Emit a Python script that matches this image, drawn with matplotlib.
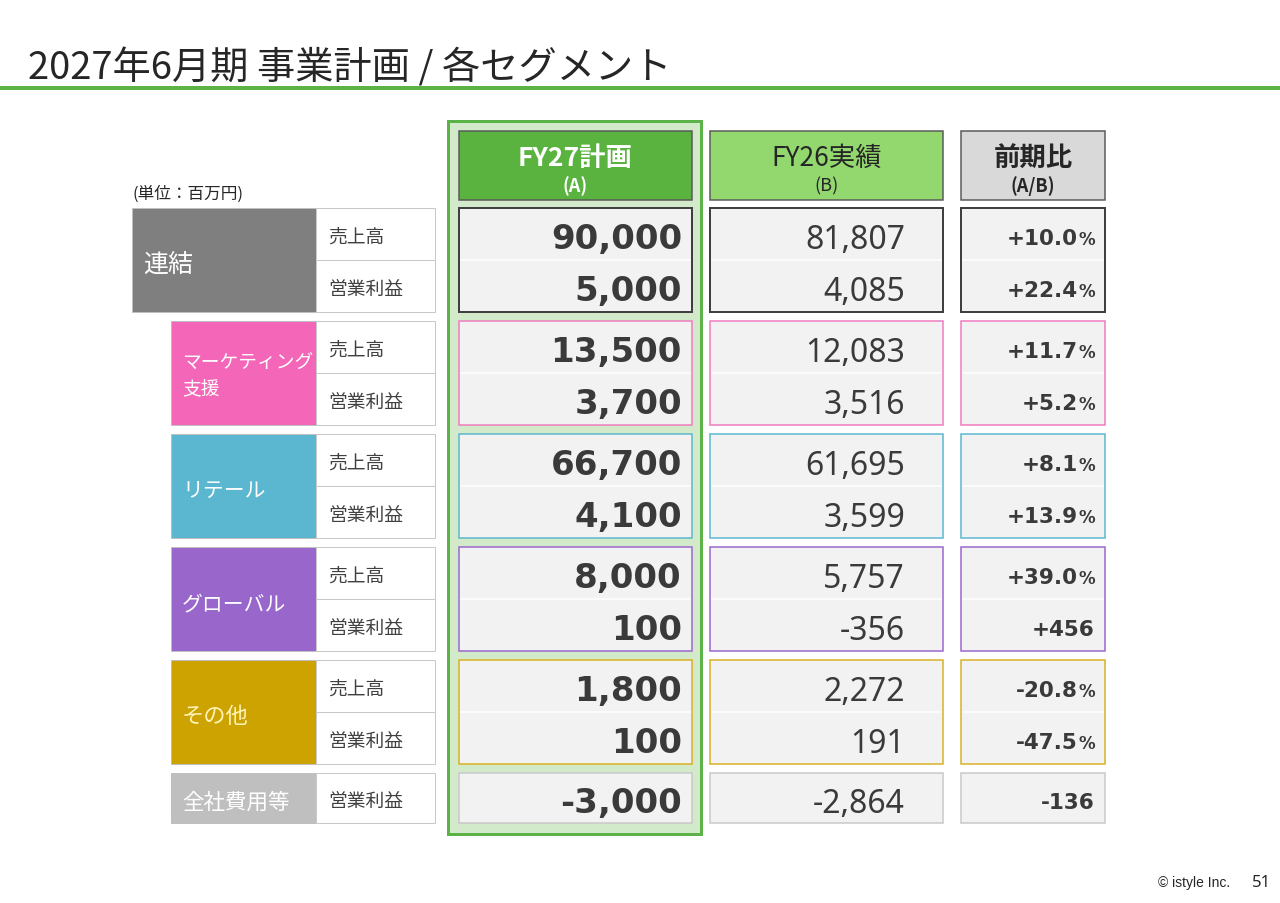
import matplotlib.pyplot as plt
from matplotlib.patches import Rectangle

# segment data (unit: million yen)
segments = ['連結', 'マーケティング\n支援', 'リテール', 'グローバル', 'その他', '全社費用等']
metrics = ['売上高', '営業利益']
plan_sales = [90000, 13500, 66700, 8000, 1800, None]
plan_op = [5000, 3700, 4100, 100, 100, -3000]
actual_sales = [81807, 12083, 61695, 5757, 2272, None]
actual_op = [4085, 3516, 3599, -356, 191, -2864]
ratio_sales = ['+10.0%', '+11.7%', '+8.1%', '+39.0%', '-20.8%', None]
ratio_op = ['+22.4%', '+5.2%', '+13.9%', '+456', '-47.5%', '-136']

seg_colors = ['#7F7F7F', '#F366B8', '#5BB6CF', '#9966CC', '#CCA300', '#BFBFBF']
edge_colors = ['#404040', '#F07AC0', '#5BB6CF', '#9966CC', '#D9B020', '#C8C8C8']
label_colors = ['white', 'white', 'white', 'white', '#FFF3B8', 'white']
label_sizes = [18, 13.5, 15, 15, 16, 15.5]

JP = ['Noto Sans CJK JP', 'DejaVu Sans']
TXT = '#404040'

fig = plt.figure(figsize=(12.8, 9.04), dpi=100)
ax = fig.add_axes([0, 0, 1, 1])
ax.set_xlim(0, 1280)
ax.set_ylim(904, 0)
ax.axis('off')

PX = 0.72  # points per pixel

# title and rule
ax.text(28, 69, '2027年6月期 事業計画 / 各セグメント', fontsize=27.5, family=JP,
        color='#262626', va='center', ha='left')
ax.plot([0, 1280], [89, 89], color='#5BB347', lw=4 * PX, solid_capstyle='butt')

ax.text(133, 194, '(単位：百万円)', fontsize=12, family=JP, color='#262626', va='center')

# highlighted plan column
ax.add_patch(Rectangle((448, 122), 253, 713, facecolor='#D3EACA',
                       edgecolor='#5BB347', lw=3 * PX))

# headers
headers = [(459, 233, '#5BB33F', 'FY27計画', '(A)', 'white', 'bold'),
           (710, 233, '#92D86F', 'FY26実績', '(B)', '#262626', 'normal'),
           (961, 144, '#D9D9D9', '前期比', '(A/B)', '#262626', 'bold')]
for x, w, fc, line1, line2, tc, wt in headers:
    ax.add_patch(Rectangle((x, 132), w, 69, facecolor=fc, edgecolor='#595959', lw=1.5 * PX))
    ax.text(x + w / 2, 158, line1, fontsize=19, family=JP, color=tc, weight=wt,
            ha='center', va='center')
    ax.text(x + w / 2, 186, line2, fontsize=13, family=JP, color=tc, weight=wt,
            ha='center', va='center')

tops = [209, 322, 435, 548, 661, 774]
RH = 52


def fmt(v):
    return f'{v:,}'


for i, seg in enumerate(segments):
    top = tops[i]
    rows = []
    if plan_sales[i] is not None:
        rows.append((metrics[0], plan_sales[i], actual_sales[i], ratio_sales[i]))
    rows.append((metrics[1], plan_op[i], actual_op[i], ratio_op[i]))
    h = RH * len(rows) if len(rows) == 2 else 50

    # segment label box
    sx = 132 if i == 0 else 171
    ax.add_patch(Rectangle((sx, top), 316 - sx, h, facecolor=seg_colors[i],
                           edgecolor='#BFBFBF', lw=1 * PX))
    if '\n' in seg:
        l1, l2 = seg.split('\n')
        ax.text(sx + 11, top + 41, l1, fontsize=label_sizes[i], family=JP,
                color=label_colors[i], va='center')
        ax.text(sx + 11, top + 68, l2, fontsize=label_sizes[i], family=JP,
                color=label_colors[i], va='center')
    else:
        ax.text(sx + 11, top + h / 2 + 4, seg, fontsize=label_sizes[i], family=JP,
                color=label_colors[i], va='center')

    # data boxes
    for bx, bw in [(459, 233), (710, 233), (961, 144)]:
        ax.add_patch(Rectangle((bx, top), bw, h, facecolor='#F2F2F2',
                               edgecolor=edge_colors[i], lw=(2 if i == 0 else 1.5) * PX))
        if len(rows) == 2:
            ax.plot([bx + 2, bx + bw - 2], [top + RH, top + RH], color='white', lw=1.5 * PX)

    for r, (metric, a, b, ratio) in enumerate(rows):
        rt = top + r * RH
        rh = h if len(rows) == 1 else RH
        cy = rt + rh / 2
        ax.add_patch(Rectangle((316, rt), 119, rh, facecolor='white',
                               edgecolor='#C8C8C8', lw=1 * PX))
        ax.text(328, cy + 2, metric, fontsize=13.5, family=JP, color=TXT, va='center')
        ax.text(682, cy + 14, fmt(a), fontsize=24.5, family='DejaVu Sans', weight='bold',
                color='#3A3A3A', ha='right', va='baseline')
        ax.text(905, cy + 14, fmt(b), fontsize=23, family='Noto Sans', color='#3A3A3A',
                ha='right', va='baseline')
        if ratio.endswith('%'):
            ax.text(1095, cy + 10, '%', fontsize=12, family='DejaVu Sans', weight='bold',
                    color='#3A3A3A', ha='right', va='baseline')
            ax.text(1078, cy + 10, ratio[:-1], fontsize=15.5, family='DejaVu Sans',
                    weight='bold', color='#3A3A3A', ha='right', va='baseline')
        else:
            ax.text(1095, cy + 10, ratio, fontsize=15.5, family='DejaVu Sans', weight='bold',
                    color='#3A3A3A', ha='right', va='baseline')

# footer
ax.text(1230, 883, '© istyle Inc.', fontsize=10, family='Liberation Sans', color='#262626',
        ha='right', va='center')
ax.text(1271, 883, '51', fontsize=12, family='Noto Sans', color='#262626',
        ha='right', va='center')

fig.savefig('out.png', dpi=100)
